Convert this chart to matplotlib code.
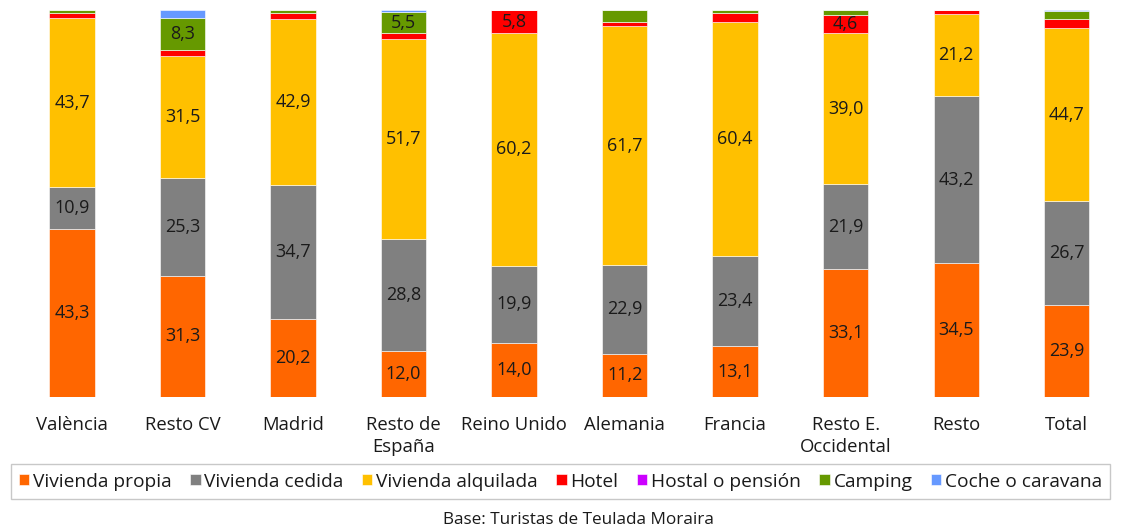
import matplotlib
matplotlib.use("Agg")
import matplotlib.pyplot as plt
import numpy as np

plt.rcParams["font.family"] = ["Open Sans", "DejaVu Sans"]

categories = ["València", "Resto CV", "Madrid", "Resto de\nEspaña", "Reino Unido",
              "Alemania", "Francia", "Resto E.\nOccidental", "Resto", "Total"]
series_names = ["Vivienda propia", "Vivienda cedida", "Vivienda alquilada", "Hotel",
                "Hostal o pensión", "Camping", "Coche o caravana"]
propia    = [43.3, 31.3, 20.2, 12.0, 14.0, 11.2, 13.1, 33.1, 34.5, 23.9]
cedida    = [10.9, 25.3, 34.7, 28.8, 19.9, 22.9, 23.4, 21.9, 43.2, 26.7]
alquilada = [43.7, 31.5, 42.9, 51.7, 60.2, 61.7, 60.4, 39.0, 21.2, 44.7]
hotel     = [1.3, 1.5, 1.5, 1.5, 5.8, 1.1, 2.3, 4.6, 1.1, 2.4]
hostal    = [0.0, 0.0, 0.0, 0.0, 0.0, 0.0, 0.0, 0.0, 0.0, 0.0]
camping   = [0.8, 8.3, 0.7, 5.5, 0.0, 3.1, 0.8, 1.4, 0.0, 2.1]
coche     = [0.0, 2.1, 0.0, 0.5, 0.0, 0.0, 0.0, 0.0, 0.0, 0.2]
colors = ["#FF6600", "#808080", "#FFC000", "#FF0000", "#CC00FF", "#669900", "#6699FF"]

data = [propia, cedida, alquilada, hotel, hostal, camping, coche]
txt_color = "#1A1A1A"
fs = 13.3

fig = plt.figure(figsize=(11.21, 5.30), dpi=100)
ax = fig.add_axes([0.0149, 0.251, 0.986, 0.730])
x = np.arange(len(categories))
bottom = np.zeros(len(categories))
handles = []
for name, vals, col in zip(series_names, data, colors):
    vals = np.array(vals)
    bars = ax.bar(x, vals, 0.41, bottom=bottom, color=col, label=name,
                  edgecolor="white", linewidth=0.4)
    handles.append(bars)
    for xi, v, b in zip(x, vals, bottom):
        if v >= 4:
            ax.text(xi, b + v / 2, f"{v:.1f}".replace(".", ","), ha="center", va="center",
                    fontsize=13, color=txt_color)
    bottom += vals

ax.set_xlim(-0.5, len(categories) - 0.5)
ax.set_ylim(0, 100)
ax.set_yticks([])
ax.set_xticks(x)
ax.set_xticklabels(categories, fontsize=fs, linespacing=1.25, va="top", color=txt_color)
ax.tick_params(axis="x", length=0, pad=14)
for s in ax.spines.values():
    s.set_visible(False)

leg = fig.legend(handles=handles, labels=series_names, loc="center",
                 bbox_to_anchor=(0.5, 0.0915), ncol=7, fontsize=13.8, frameon=True,
                 fancybox=False, edgecolor="#BBBBBB", handlelength=0.55, handleheight=0.55,
                 handletextpad=0.2, columnspacing=0.95, borderpad=0.42, borderaxespad=0.0)
leg.get_frame().set_linewidth(1.0)
for t in leg.get_texts():
    t.set_color(txt_color)

fig.text(0.516, 0.019, "Base: Turistas de Teulada Moraira", ha="center", va="center",
         fontsize=12.3, color=txt_color)

fig.savefig("out.png", dpi=100)
